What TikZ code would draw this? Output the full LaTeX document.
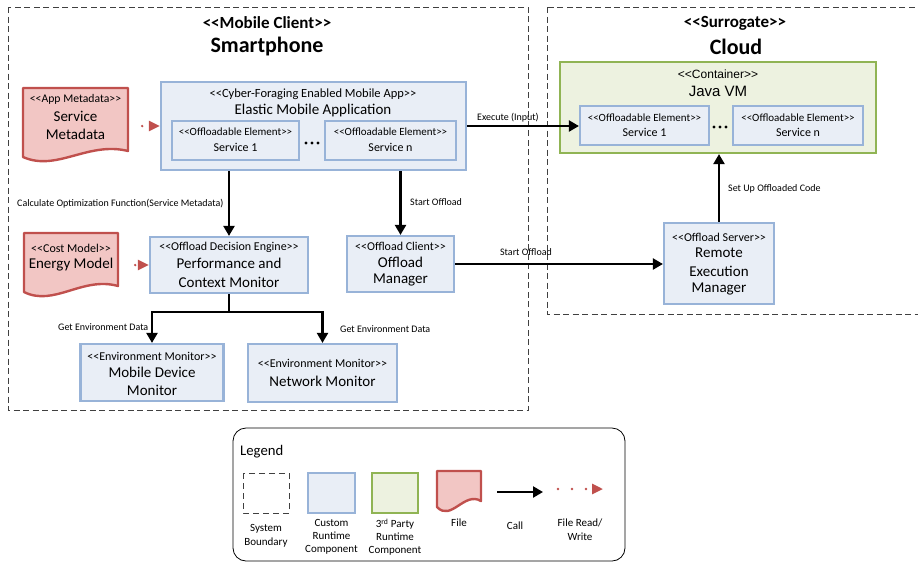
\documentclass[tikz,border=0pt]{standalone}
\usepackage{fontspec}
\setmainfont{Carlito}[Ligatures=TeXOff]
\newfontfamily\vmfont{Liberation Sans}[Ligatures=TeXOff]
\usetikzlibrary{arrows.meta}

\definecolor{compfill}{HTML}{E9EEF6}
\definecolor{compline}{HTML}{98B3D8}
\definecolor{partyfill}{HTML}{EDF2E0}
\definecolor{partyline}{HTML}{90B454}
\definecolor{filefill}{HTML}{F2C6C4}
\definecolor{fileline}{HTML}{C0504D}
\definecolor{boundline}{HTML}{404040}

% document symbol: left, top, right, bottom (left end of the wavy edge)
\newcommand\docshape[4]{%
  \filldraw[fileshape] (#1,#2) -- (#3,#2) -- (#3,{#4-6})
    .. controls ({#1+0.62*(#3-#1)},{#4-16}) and ({#1+0.32*(#3-#1)},{#4+15}) .. (#1,#4) -- cycle;}

\begin{document}
\begin{tikzpicture}[x=1pt,y=-1pt,
  boundary/.style={draw=boundline, line width=0.9pt, dash pattern=on 6pt off 3.5pt},
  comp/.style={draw=compline, fill=compfill, line width=2.2pt, inner sep=0pt},
  party/.style={draw=partyline, fill=partyfill, line width=2.2pt, inner sep=0pt},
  fileshape/.style={draw=fileline, fill=filefill, line width=2.4pt, line join=round},
  ghost/.style={draw=none, inner sep=0pt},
  call/.style={line width=2.3pt, -{Triangle[length=10pt,width=11pt]}},
  rw/.style={draw=fileline, line width=2.6pt, line cap=round, dash pattern=on 0pt off 14pt,
    -{Triangle[length=11pt,width=10pt,fill=fileline]}},
  txt/.style={inner sep=0pt, align=center},
  titleA/.style={txt, font=\fontsize{17}{20}\selectfont\bfseries},
  titleB/.style={txt, font=\fontsize{22}{26}\selectfont\bfseries},
  stereo/.style={txt, font=\fontsize{12}{14}\selectfont},
  big/.style={txt, font=\fontsize{15}{18}\selectfont},
  elem/.style={txt, font=\fontsize{11}{13}\selectfont},
  svc/.style={txt, font=\fontsize{12}{14}\selectfont},
  lbl/.style={inner sep=0pt, font=\fontsize{10}{12}\selectfont},
  legtxt/.style={txt, font=\fontsize{11}{13}\selectfont}]

\useasboundingbox (0,0) rectangle (918,563);

% ---------- system boundaries ----------
\draw[boundary] (8,7) rectangle (528,410);
\draw[boundary] (547,7) rectangle (932,314);
\node[titleA] (mc-st) at (267,23) {<<Mobile Client>>};
\node[titleB] (mc-nm) at (267,47) {Smartphone};
\node[titleA] (sg-st) at (735,23) {<<Surrogate>>};
\node[titleB] (sg-nm) at (736,47) {Cloud};

% ---------- mobile side ----------
\node[comp, minimum width=305, minimum height=88] (app) at (313.5,126) {};
\node[stereo, font=\fontsize{12.5}{14}\selectfont] (app-st) at (313,94) {<<Cyber-Foraging Enabled Mobile App>>};
\node[big] (app-nm) at (313,110) {Elastic Mobile Application};
\node[comp, minimum width=127, minimum height=39] (ms1) at (235.5,140.5) {};
\node[elem] (ms1-st) at (235.5,132) {<<Offloadable Element>>};
\node[svc] (ms1-nm) at (235.5,147) {Service 1};
\node[comp, minimum width=131, minimum height=39] (msn) at (390.5,140.5) {};
\node[elem] (msn-st) at (390.5,132) {<<Offloadable Element>>};
\node[svc] (msn-nm) at (390.5,147) {Service n};
\foreach \dx in {-6,0,6} \fill (312+\dx,143) circle (1.7);

% service metadata file
\docshape{23}{88}{128}{157}
\node[ghost, minimum width=105, minimum height=70] (meta) at (75.5,123) {};
\node[stereo, font=\fontsize{11.7}{14}\selectfont] (meta-st) at (75.5,99) {<<App Metadata>>};
\node[big] (meta-a) at (75.5,116) {Service};
\node[big] (meta-b) at (75.5,134) {Metadata};

% decision engine
\node[comp, minimum width=158, minimum height=56] (perf) at (229,265) {};
\node[stereo] (perf-st) at (229,247) {<<Offload Decision Engine>>};
\node[big] (perf-a) at (229,263) {Performance and};
\node[big] (perf-b) at (229,282) {Context Monitor};

% energy model file
\docshape{24}{233}{118}{292}
\node[ghost, minimum width=94, minimum height=59] (cost) at (71,262) {};
\node[stereo] (cost-st) at (71,248) {<<Cost Model>>};
\node[big] (cost-nm) at (71,265) {Energy Model};

% offload client
\node[comp, minimum width=107, minimum height=56] (om) at (400.5,264) {};
\node[stereo] (om-st) at (400.5,246) {<<Offload Client>>};
\node[big] (om-a) at (400.5,262) {Offload};
\node[big] (om-b) at (400.5,280) {Manager};

% environment monitors
\node[comp, minimum width=143, minimum height=57] (mdm) at (152,372.5) {};
\node[stereo] (mdm-st) at (152,356) {<<Environment Monitor>>};
\node[big] (mdm-a) at (152,372) {Mobile Device};
\node[big] (mdm-b) at (152,390) {Monitor};
\node[comp, minimum width=149, minimum height=58] (net) at (322.5,373) {};
\node[stereo] (net-st) at (322.5,363) {<<Environment Monitor>>};
\node[big] (net-nm) at (322.5,381) {Network Monitor};

% ---------- cloud side ----------
\node[party, minimum width=316, minimum height=91] (jvm) at (718,107.5) {};
\node[stereo, font=\fontsize{12}{14}\vmfont] (jvm-st) at (718,74) {<<Container>>};
\node[big, font=\fontsize{15}{18}\vmfont] (jvm-nm) at (718,91) {Java VM};
\node[comp, minimum width=129, minimum height=39] (cs1) at (644.5,125.5) {};
\node[elem] (cs1-st) at (644.5,118) {<<Offloadable Element>>};
\node[svc] (cs1-nm) at (644.5,132.5) {Service 1};
\node[comp, minimum width=130, minimum height=39] (csn) at (798,125.5) {};
\node[elem] (csn-st) at (798,118) {<<Offloadable Element>>};
\node[svc] (csn-nm) at (798,132.5) {Service n};
\foreach \dx in {-6,0,6} \fill (720+\dx,127) circle (1.7);

\node[comp, minimum width=110, minimum height=81] (rem) at (719,263.5) {};
\node[stereo] (rem-st) at (719,237) {<<Offload Server>>};
\node[big] (rem-a) at (719,253) {Remote};
\node[big] (rem-b) at (719,271) {Execution};
\node[big] (rem-c) at (719,289) {Manager};

% ---------- connectors ----------
\draw[rw, shorten <=14pt] (meta.east |- app.west) -- (app.west);
\draw[rw, shorten <=17pt] (cost.east |- perf.west) -- (perf.west);
\draw[call] (app.east) -- (app.east -| cs1.west);
\node[lbl] (l-exec) at (508,118) {Execute (Input)};
\draw[call] (perf.north |- app.south) -- (perf.north);
\node[lbl, anchor=west] (l-calc) at (17,204) {Calculate Optimization Function(Service Metadata)};
\draw[call] (om.north |- app.south) -- (om.north);
\node[lbl, anchor=west] (l-start1) at (410,202) {Start Offload};
\draw[call] (om.east) -- (om.east -| rem.west);
\node[lbl] (l-start2) at (526,252) {Start Offload};
\draw[call] (rem.north) -- (rem.north |- jvm.south);
\node[lbl, anchor=west] (l-setup) at (728,189) {Set Up Offloaded Code};
\draw[call] (perf.south) -- ++(0,18) -| (mdm.north);
\draw[call] (perf.south) -- ++(0,18) -| (net.north);
\node[lbl, anchor=west] (l-env1) at (58,327) {Get Environment Data};
\node[lbl, anchor=west] (l-env2) at (340,329) {Get Environment Data};

% ---------- legend ----------
\draw[line width=0.8pt, rounded corners=13pt] (233,428) rectangle (625,561);
\node[txt, anchor=west, font=\fontsize{14.7}{17}\selectfont] (leg-t) at (240,452) {Legend};
\draw[boundary, dash pattern=on 6pt off 4pt] (243,473) rectangle (289,513);
\node[legtxt, font=\fontsize{11}{14}\selectfont] (leg-sb) at (266,536) {System\\Boundary};
\node[comp, minimum width=47, minimum height=40] (leg-cr) at (331.5,493) {};
\node[legtxt, font=\fontsize{11}{12.8}\selectfont] (leg-crt) at (331.5,537) {Custom\\Runtime\\Component};
\node[party, minimum width=46, minimum height=40] (leg-tp) at (395,493) {};
\node[legtxt, font=\fontsize{11}{12.8}\selectfont] (leg-tpt) at (395,537) {3\textsuperscript{rd} Party\\Runtime\\Component};
\docshape{437}{471}{481}{507}
\node[legtxt] (leg-f) at (459,523) {File};
\coordinate (call-a) at (497,492);
\coordinate (call-b) at (543,492);
\draw[call] (call-a) -- (call-b);
\node[legtxt] (leg-c) at (515,526) {Call};
\coordinate (rw-a) at (558,489);
\coordinate (rw-b) at (603,489);
\draw[rw] (rw-a) -- (rw-b);
\node[legtxt, font=\fontsize{11}{14}\selectfont] (leg-rw) at (580,530) {File Read/\\Write};

\end{tikzpicture}
\end{document}
